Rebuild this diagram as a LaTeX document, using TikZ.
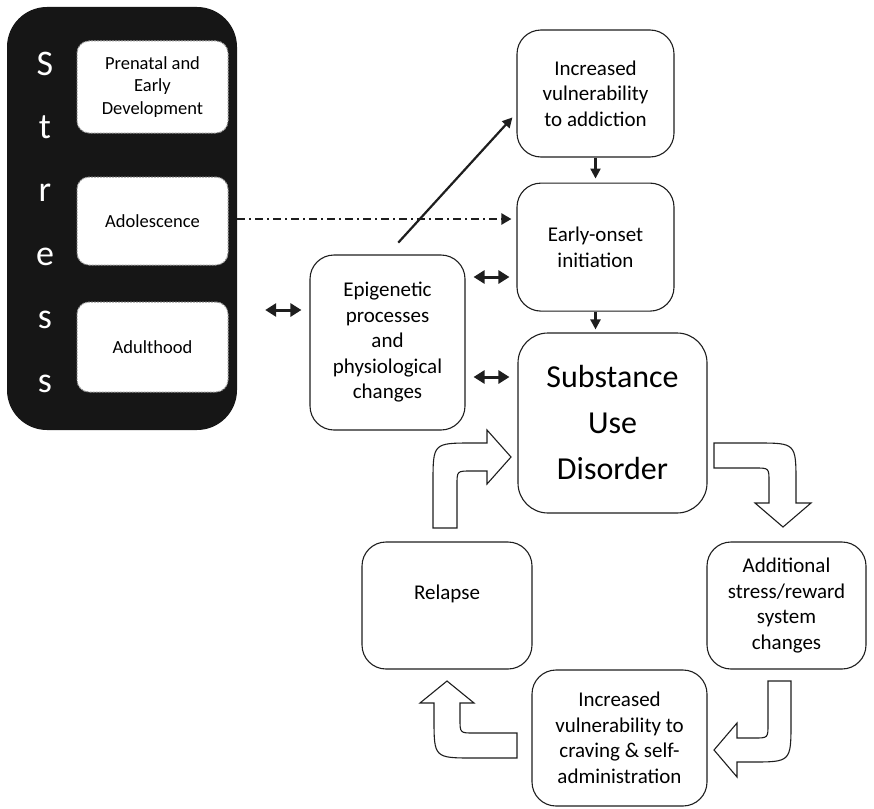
\documentclass[tikz,border=0pt]{standalone}
\usepackage{fontspec}
\setmainfont{Carlito}
\usepackage{tikz}
\usetikzlibrary{arrows.meta,positioning}
\definecolor{sdink}{RGB}{30,30,30}
\definecolor{sddark}{RGB}{22,22,22}
\definecolor{sdedge}{RGB}{150,150,150}
\tikzset{
  sdbox/.style={draw=sdink, line width=1.1pt, rounded corners=24pt, fill=white, align=center, inner sep=2pt, font=\fontsize{21}{25.5}\selectfont},
  sdstage/.style={draw=sdedge, line width=1pt, dash pattern=on 2pt off 1pt, rounded corners=12pt, fill=white, align=center, minimum width=151pt, inner sep=2pt, font=\fontsize{18.5}{22.5}\selectfont},
  sdletter/.style={text=white, anchor=base, inner sep=0pt, font=\fontsize{36}{43}\selectfont},
  sdarr/.style={-{Triangle[length=10pt,width=10pt]}, line width=2.2pt, draw=sdink},
  sddbl/.style={{Triangle[length=11pt,width=13pt]}-{Triangle[length=11pt,width=13pt]}, line width=3pt, draw=sdink},
  sddash/.style={-{Triangle[length=10pt,width=11pt]}, line width=2.2pt, draw=sdink, dash pattern=on 8pt off 4pt on 2pt off 4pt},
  sdblock/.style={draw=sdink, line width=1.1pt, fill=white, line join=miter}
}
\begin{document}
\begin{tikzpicture}[x=1pt, y=-1pt]
  \useasboundingbox (0,0) rectangle (874,808);
  % stress panel
  \node[fill=sddark, rounded corners=40pt, minimum width=230pt, minimum height=423pt] (stress) at (122,218.5) {};
  \foreach \ch [count=\i] in {S,t,r,e,s,s}
    \node[sdletter] (ltr\i) at (45,{75+63.4*(\i-1)}) {\ch};
  \node[sdstage, minimum height=92pt] (prenatal) at (152.5,87) {Prenatal and\\Early\\Development};
  \node[sdstage, minimum height=88pt] (adol) at (152.5,221) {Adolescence};
  \node[sdstage, minimum height=90pt] (adult) at (152.5,347) {Adulthood};
  % main boxes
  \node[sdbox, minimum width=157pt, minimum height=127pt] (vuln) at (595.5,93.5) {Increased\\vulnerability\\to addiction};
  \node[sdbox, minimum width=157pt, minimum height=128pt, below=25pt of vuln] (early) {Early-onset\\initiation};
  \node[sdbox, minimum width=155pt, minimum height=175pt] (epi) at (387.5,342.5) {Epigenetic\\processes\\and\\physiological\\changes};
  \node[sdbox, rounded corners=30pt, minimum width=189pt, minimum height=180pt, font=\fontsize{32}{46}\selectfont] (sud) at (612.5,423) {Substance\\Use\\Disorder};
  \node[sdbox, minimum width=159pt, minimum height=127pt] (addl) at (786.5,605.5) {Additional\\stress/reward\\system\\changes};
  \node[sdbox, minimum width=175pt, minimum height=136pt] (crave) at (619.5,738) {Increased\\vulnerability to\\craving \& self-\\administration};
  \node[sdbox, minimum width=170pt, minimum height=127pt, text depth=26pt] (relapse) at (447,605.5) {Relapse};
  % connectors
  \draw[sdarr, shorten >=4pt] (vuln) -- (early);
  \draw[sdarr, shorten >=3pt] (early.south) -- (early.south |- sud.north);
  \draw[sddbl, shorten <=28pt, shorten >=8pt] (stress.east |- 0,310) -- (epi.west |- 0,310);
  \draw[sddbl, shorten <=8pt, shorten >=7pt] (epi.east |- 0,277) -- (early.west |- 0,277);
  \draw[sddbl, shorten <=8pt, shorten >=8pt] (epi.east |- 0,377) -- (sud.west |- 0,377);
  \draw[sddash, shorten >=5pt] (stress.east |- 0,219) -- (early.west |- 0,219);
  \draw[sdarr, shorten <=16pt, shorten >=6pt] (epi.north) -- (vuln.west |- 0,113);
  % cycle arrows
  \draw[sdblock] (433,528) -- (433,483) .. controls (433,443) .. (473,443) -- (487,443) -- (487,430) -- (511,457) -- (487,484) -- (487,471) -- (471,471) .. controls (457,471) .. (457,485) -- (457,528) -- cycle;
  \draw[sdblock] (714,443) -- (756,443) .. controls (796,443) .. (796,483) -- (796,503) -- (811,503) -- (783,527) -- (755,503) -- (769,503) -- (769,482) .. controls (769,468) .. (755,468) -- (714,468) -- cycle;
  \draw[sdblock] (768,681) -- (791,681) -- (791,722) .. controls (791,762) .. (751,762) -- (737,762) -- (737,777) -- (714,750) -- (737,723) -- (737,738) -- (754,738) .. controls (768,738) .. (768,724) -- cycle;
  \draw[sdblock] (517,758) -- (474,758) .. controls (434,758) .. (434,718) -- (434,703) -- (420,703) -- (447,681) -- (474,703) -- (460,703) -- (460,719) .. controls (460,733) .. (474,733) -- (517,733) -- cycle;
\end{tikzpicture}
\end{document}
